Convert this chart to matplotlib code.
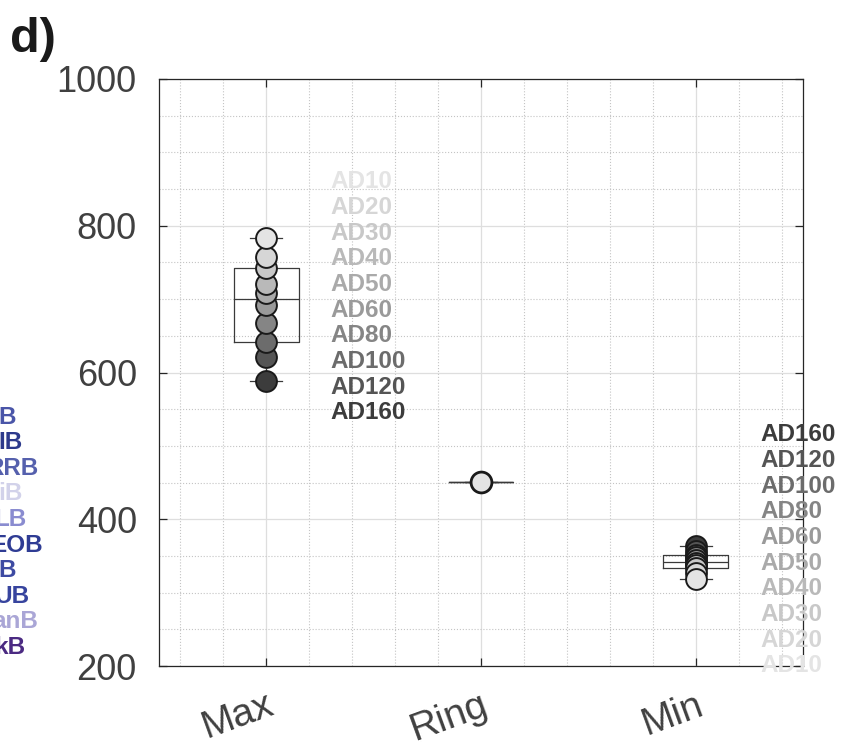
import numpy as np
import matplotlib.pyplot as plt
from matplotlib.ticker import MultipleLocator

plt.rcParams['font.family'] = ['Liberation Sans', 'DejaVu Sans']

groups = ["Max", "Ring", "Min"]
ad_names = ["AD10", "AD20", "AD30", "AD40", "AD50", "AD60", "AD80", "AD100", "AD120", "AD160"]
max_vals = [783, 757, 742, 721, 708, 692, 667, 642, 621, 588]
ring_vals = [451]
min_vals = [318, 327, 333, 337, 340, 344, 348, 351, 357, 363]
ad_greys = ["#e4e4e4", "#d6d6d6", "#c8c8c8", "#b9b9b9", "#aaaaaa",
            "#9a9a9a", "#858585", "#6c6c6c", "#555555", "#3c3c3c"]

# labels of the neighbouring panel, cut off by the figure edge
side_labels = ["B", "IB", "RRB", "iB", "LB", "EOB", "B", "UB", "anB", "kB"]
side_colors = ["#4a55a8", "#2d3a8c", "#5560ad", "#d2d2ea", "#8a8cd0",
               "#2f3c94", "#3d4aa2", "#37449e", "#aaa6d6", "#4b2a82"]
side_right_px = [16, 23, 39, 23, 27, 43, 16, 30, 38, 25]

fig = plt.figure(figsize=(8.48, 7.49), dpi=100)
ax = fig.add_axes([159/848, 1-666/749, (803-159)/848, (666-79)/749])

data = [max_vals, ring_vals, min_vals]
stats = []
for name, v in zip(groups, data):
    v = np.array(v, float)
    q1, med, q3 = np.percentile(v, [25, 50, 75], method="hazen")
    stats.append(dict(label=name, med=med, q1=q1, q3=q3,
                      whislo=v.min(), whishi=v.max(), fliers=[]))

edge = "#3a3a3a"
ax.bxp(stats, positions=[1, 2, 3], widths=0.3, showfliers=False, manage_ticks=False,
       boxprops=dict(color=edge, lw=0.9),
       medianprops=dict(color=edge, lw=0.9),
       whiskerprops=dict(color=edge, lw=0.9, ls="--"),
       capprops=dict(color=edge, lw=0.9), zorder=2)

# circles, AD10 drawn last so it sits on top
for i in reversed(range(len(ad_names))):
    ax.plot(1, max_vals[i], "o", ms=15, mfc=ad_greys[i], mec="#1a1a1a", mew=1.4, zorder=3)
    ax.plot(3, min_vals[i], "o", ms=15, mfc=ad_greys[i], mec="#1a1a1a", mew=1.4, zorder=3)
ax.plot(2, ring_vals[0], "o", ms=15, mfc="#e4e4e4", mec="#1a1a1a", mew=2, zorder=3)

# stacked legend-like labels
step = 35
for i, (n, c) in enumerate(zip(ad_names, ad_greys)):
    ax.text(1.3, 860 - step*i, n, color=c, fontsize=17.5, fontweight="bold",
            va="center", ha="left", clip_on=False)
    ax.text(3.3, 200 + step*i, n, color=c, fontsize=17.5, fontweight="bold",
            va="center", ha="left", clip_on=False, zorder=5)

ax.set_xlim(0.5, 3.5)
ax.set_ylim(200, 1000)
ax.set_xticks([1, 2, 3])
ax.set_xticklabels(groups, rotation=20, ha="right", va="top", rotation_mode="anchor")
ax.set_yticks([200, 400, 600, 800, 1000])
ax.xaxis.set_minor_locator(MultipleLocator(0.2))
ax.yaxis.set_minor_locator(MultipleLocator(50))
ax.tick_params(which="major", direction="in", length=6, width=0.9, color="#262626",
               labelcolor="#404040", top=True, right=True)
ax.tick_params(axis="y", labelsize=26, pad=16)
ax.tick_params(axis="x", labelsize=28, pad=15)
ax.tick_params(which="minor", length=0)
ax.grid(which="major", color="#dedede", lw=0.9, ls="-", zorder=0)
ax.grid(which="minor", color="#c4c4c4", lw=0.8, ls=":", zorder=0)
ax.set_axisbelow(True)
for s in ax.spines.values():
    s.set_color("#262626")
    s.set_linewidth(0.9)

for i, (t, c, xr) in enumerate(zip(side_labels, side_colors, side_right_px)):
    fig.text(xr/848, 1 - (417 + 25.6*i)/749, t, color=c, fontsize=17.5,
             fontweight="bold", ha="right", va="center")

fig.text(10/848, 1 - 52/749, "d)", fontsize=35, fontweight="bold", color="#1a1a1a",
         ha="left", va="baseline")

fig.savefig("out.png", dpi=100)
